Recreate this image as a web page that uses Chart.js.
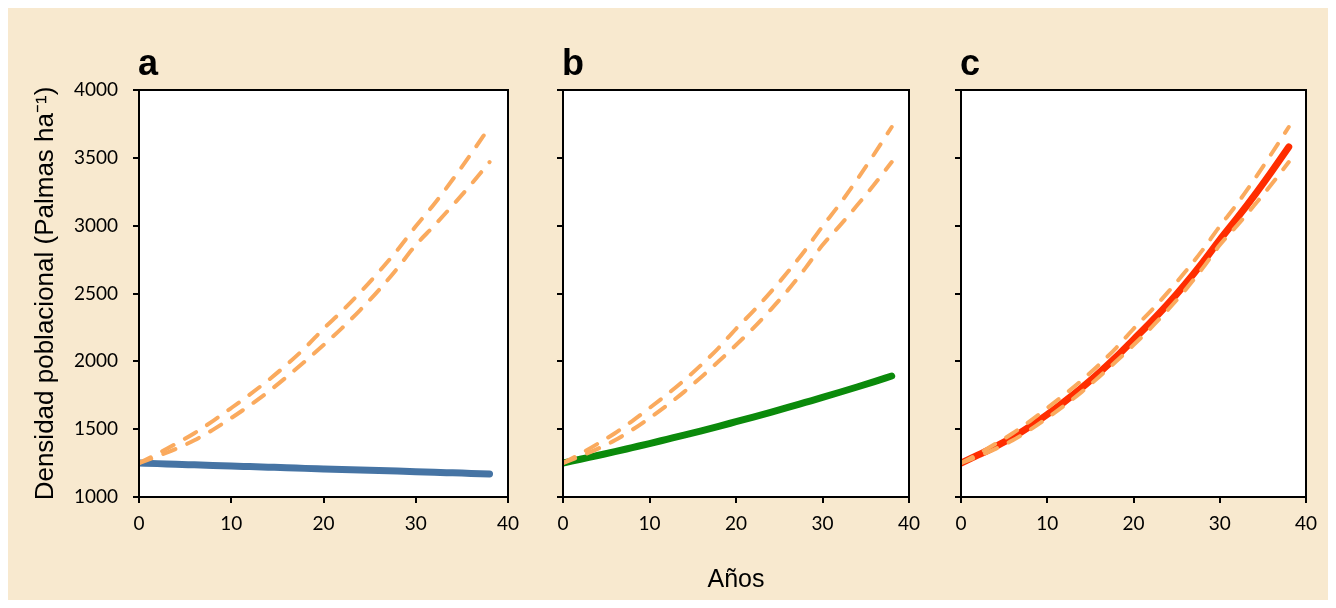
<!DOCTYPE html>
<html><head><meta charset="utf-8">
<script src="https://cdn.jsdelivr.net/npm/chart.js@4.4.0/dist/chart.umd.min.js"></script>
<style>
html,body{margin:0;padding:0;background:#fff;}
#stage{position:relative;width:1336px;height:608px;overflow:hidden;background:#fff;}
#bg{position:absolute;left:8px;top:8px;width:1320px;height:592px;background:#F8E9CF;}
canvas{position:absolute;top:0;}
</style></head><body>
<div id="stage"><div id="bg"></div>
<canvas id="ca" width="530" height="608" style="left:0px"></canvas>
<canvas id="cb" width="400" height="608" style="left:530px"></canvas>
<canvas id="cc" width="406" height="608" style="left:930px"></canvas>
</div>
<script>
// ---- data ----
const years      = [0,2,4,6,8,10,12,14,16,18,20,22,24,26,28,30,32,34,36,38];
const upperBound = [1250,1318,1392,1470,1560,1656,1755,1860,1975,2100,2240,2370,2510,2660,2820,2995,3160,3340,3530,3727];
const lowerBound = [1250,1300,1355,1418,1495,1582,1675,1775,1885,2000,2120,2245,2380,2525,2685,2857,3000,3150,3305,3469];
const seriesA    = [1250,1246,1241,1237,1233,1228,1224,1220,1216,1211,1207,1203,1199,1195,1191,1187,1182,1178,1174,1170];
const seriesB    = [1250,1278,1306,1334,1364,1394,1425,1456,1488,1521,1555,1589,1624,1660,1697,1734,1772,1811,1851,1892];
const seriesC    = [1250,1310,1372,1440,1520,1608,1703,1805,1915,2033,2160,2288,2423,2570,2728,2895,3055,3222,3398,3580];
const xTicks = [0,10,20,30,40];
const yTicks = [1000,1500,2000,2500,3000,3500,4000];
const panelLetters = ['a','b','c'];
const yTitleText = 'Densidad poblacional (Palmas ha\u207B\u00B9)';
const xTitleText = 'A\u00F1os';

const toXY = vals => years.map((x,i)=>({x:x, y:vals[i]}));

const panelPlugin = {
  id:'panelDeco',
  beforeDraw(chart){
    const a = chart.chartArea, ctx = chart.ctx;
    ctx.save(); ctx.fillStyle = '#ffffff';
    ctx.fillRect(a.left, a.top, a.right-a.left, a.bottom-a.top);
    ctx.restore();
  },
  afterDraw(chart){
    const a = chart.chartArea, ctx = chart.ctx;
    ctx.save();
    ctx.strokeStyle = '#000'; ctx.lineWidth = 2;
    ctx.strokeRect(a.left, a.top, a.right-a.left, a.bottom-a.top);
    ctx.fillStyle = '#000';
    ctx.font = 'bold 36px "Liberation Sans", Arial, sans-serif';
    ctx.textBaseline = 'alphabetic'; ctx.textAlign = 'left';
    ctx.fillText(chart.options.plugins.panelDeco.letter, a.left - 1, 75);
    ctx.restore();
  }
};

function makePanel(id, letter, mainVals, mainColor, o){
  const tickFont = {family:'Lato, "Open Sans", sans-serif', size:19};
  new Chart(document.getElementById(id), {
    type:'line',
    data:{ datasets:[
      {data:toXY(upperBound), borderColor:'#FAAA5E', borderWidth:4, borderDash:[13,13], borderCapStyle:'round', pointRadius:0, cubicInterpolationMode:'monotone', fill:false, order:0},
      {data:toXY(lowerBound), borderColor:'#FAAA5E', borderWidth:4, borderDash:[13,13], borderCapStyle:'round', pointRadius:0, cubicInterpolationMode:'monotone', fill:false, order:0},
      {data:toXY(mainVals), borderColor:mainColor, borderWidth:7, borderCapStyle:'round', borderJoinStyle:'round', pointRadius:0, cubicInterpolationMode:'monotone', fill:false, order:1}
    ]},
    options:{
      responsive:false, animation:false, devicePixelRatio:1,
      layout:{padding:{left:0, right:o.padRight, top:90, bottom:11}},
      plugins:{legend:{display:false}, tooltip:{enabled:false}, title:{display:false}, panelDeco:{letter:letter}},
      scales:{
        x:{type:'linear', min:0, max:40,
          afterBuildTicks:s=>{s.ticks = xTicks.map(v=>({value:v}));},
          afterFit:s=>{s.height = 100;},
          grid:{drawOnChartArea:false, drawTicks:true, tickLength:6, color:'#000', lineWidth:2},
          border:{display:false},
          ticks:{color:'#000', font:tickFont, padding:9, maxRotation:0, callback:v=>String(v)},
          title:{display:!!o.xTitle, text:xTitleText, color:'#000', font:{family:'"Liberation Sans", Arial, sans-serif', size:25}, padding:{top:0,bottom:2}}
        },
        y:{type:'linear', min:1000, max:4000,
          afterBuildTicks:s=>{s.ticks = yTicks.map(v=>({value:v}));},
          afterFit:s=>{s.width = o.yWidth;},
          grid:{drawOnChartArea:false, drawTicks:true, tickLength:6, color:'#000', lineWidth:2},
          border:{display:false},
          ticks:{display:o.yLabels, color:'#000', font:tickFont, padding:15, callback:v=>String(v)},
          title:{display:!!o.yTitle, text:yTitleText, color:'#000', font:{family:'"Liberation Sans", Arial, sans-serif', size:26}, padding:{top:30,bottom:0}}
        }
      }
    },
    plugins:[panelPlugin]
  });
}

makePanel('ca', panelLetters[0], seriesA, '#4674A4', {yWidth:139, padRight:22, yLabels:true, yTitle:true});
makePanel('cb', panelLetters[1], seriesB, '#0B8A0B', {yWidth:33, padRight:21, yLabels:false, xTitle:true});
makePanel('cc', panelLetters[2], seriesC, '#FF2D00', {yWidth:31, padRight:30, yLabels:false});
</script>
</body></html>
